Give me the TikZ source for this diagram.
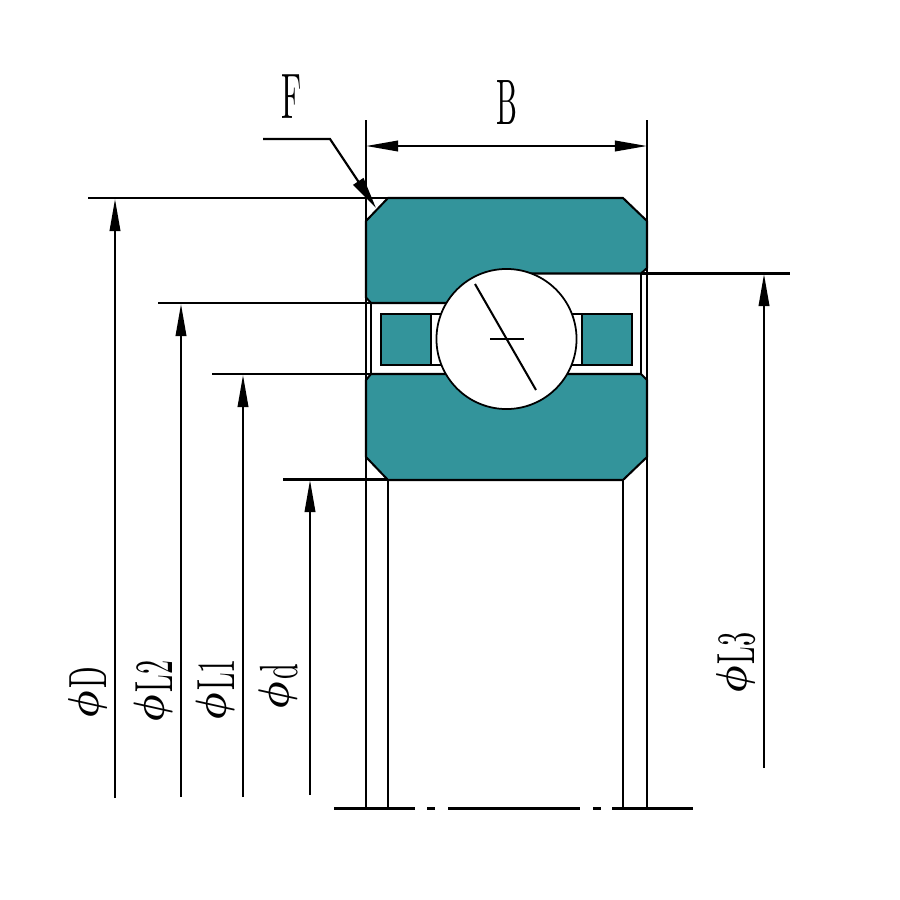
\documentclass[tikz,border=0pt]{standalone}
\usepackage{graphicx}
\usetikzlibrary{arrows.meta}
\definecolor{ringteal}{RGB}{51,148,155}
\newcommand{\stpart}[1]{\scalebox{0.8}[1.53]{#1}}
\newcommand{\stphi}{\raisebox{2.4pt}{\scalebox{1.1}[1.24]{\boldmath$\phi$}}\hspace{0.6pt}}
\tikzset{
  x=0.01cm,y=-0.01cm,
  dimline/.style={line width=0.58pt,black},
  thick line/.style={line width=0.62pt,black},
  partline/.style={line width=0.58pt,black,fill=ringteal,line join=miter},
  dimarrow/.style={dimline,-{Triangle[length=0.32cm,width=0.105cm]}},
  lbl/.style={inner sep=0pt,font=\fontsize{10}{10}\selectfont},
  tall/.style={inner sep=0pt,font=\fontsize{10}{10}\selectfont},
}
\begin{document}
\begin{tikzpicture}
\useasboundingbox (0,0) rectangle (900,900);
% coordinates
\coordinate (refL) at (366,120);
\coordinate (refR) at (647,120);
\coordinate (bL) at (366,146);
\coordinate (bR) at (647,146);
% rings
\draw[partline] (388,198) -- (623,198) -- (647,221) -- (647,268) -- (641,273.5) -- (507,273.5) -- (507,303) -- (371,303) -- (366,297.5) -- (366,221) -- cycle;
\draw[partline] (371,374) -- (641,374) -- (647,380) -- (647,457) -- (623,480) -- (388,480) -- (366,457) -- (366,380) -- cycle;
% raceway
\draw[thick line] (371,303) -- (371,374);
\draw[thick line] (641,273.5) -- (641,374);
% cages
\draw[dimline] (431,314) -- (460,314) (431,365) -- (460,365);
\draw[dimline] (582,314) -- (560,314) (582,365) -- (560,365);
\draw[partline] (381,314) rectangle (431,365);
\draw[partline] (582,314) rectangle (632,365);
% ball
\node[circle,draw=black,fill=white,line width=0.5pt,minimum size=1.40cm,inner sep=0pt] (ball) at (506.5,339) {};
\coordinate (ballA) at (475,284);
\coordinate (ballB) at (536,390);
\coordinate (crossA) at (490,339);
\coordinate (crossB) at (524,339);
\draw[dimline] (ballA) -- (ballB);
\draw[thick line] (crossA) -- (crossB);
% extension lines
\draw[dimline] (refL) -- (366,808);
\draw[dimline] (refR) -- (647,808);
\draw[thick line] (388,480) -- (388,808);
\draw[thick line] (623,480) -- (623,808);
\draw[dimline] (88,198) -- (388,198);
\draw[thick line] (158,303) -- (371,303);
\draw[dimline] (212,374) -- (371,374);
\draw[thick line] (283,479.5) -- (388,479.5);
\draw[thick line] (641,273.5) -- (790,273.5);
% centre line
\draw[thick line] (334,808.5) -- (415,808.5) (427,808.5) -- (435,808.5) (448,808.5) -- (580,808.5) (593,808.5) -- (601,808.5) (612,808.5) -- (693,808.5);
% B dimension
\draw[dimarrow] (507,146) -- (bL);
\draw[dimarrow] (507,146) -- (bR);
% F leader
\coordinate (fS) at (263,139);
\coordinate (fK) at (330,139);
\coordinate (fE) at (376,208);
\draw[thick line,-{Triangle[length=0.32cm,width=0.12cm]}] (fS) -- (fK) -- (fE);
% vertical dimensions
\coordinate (dT) at (115,199); \coordinate (dB) at (115,798);
\coordinate (l2T) at (181,304); \coordinate (l2B) at (181,797);
\coordinate (l1T) at (243,375); \coordinate (l1B) at (243,797);
\coordinate (sdT) at (310,480); \coordinate (sdB) at (310,795);
\coordinate (l3T) at (764,274); \coordinate (l3B) at (764,768);
\foreach \a/\b in {dB/dT,l2B/l2T,l1B/l1T,sdB/sdT,l3B/l3T} \draw[dimarrow] (\a) -- (\b);
% labels
\node[tall] (labF) at (292,97) {\scalebox{0.88}[1.83]{F}};
\node[tall] (labB) at (507,103) {\scalebox{0.84}[1.83]{B}};
\node[lbl,rotate=90] (labD) at (87.5,692.5) {\stphi\stpart{D}};
\node[lbl,rotate=90] (labL2) at (153,691.5) {\stphi\stpart{L2}};
\node[lbl,rotate=90] (labL1) at (215,690) {\stphi\stpart{L1}};
\node[lbl,rotate=90] (labd) at (278,687) {\stphi\stpart{d}};
\node[lbl,rotate=90] (labL3) at (736,663) {\stphi\stpart{L3}};
\end{tikzpicture}
\end{document}
